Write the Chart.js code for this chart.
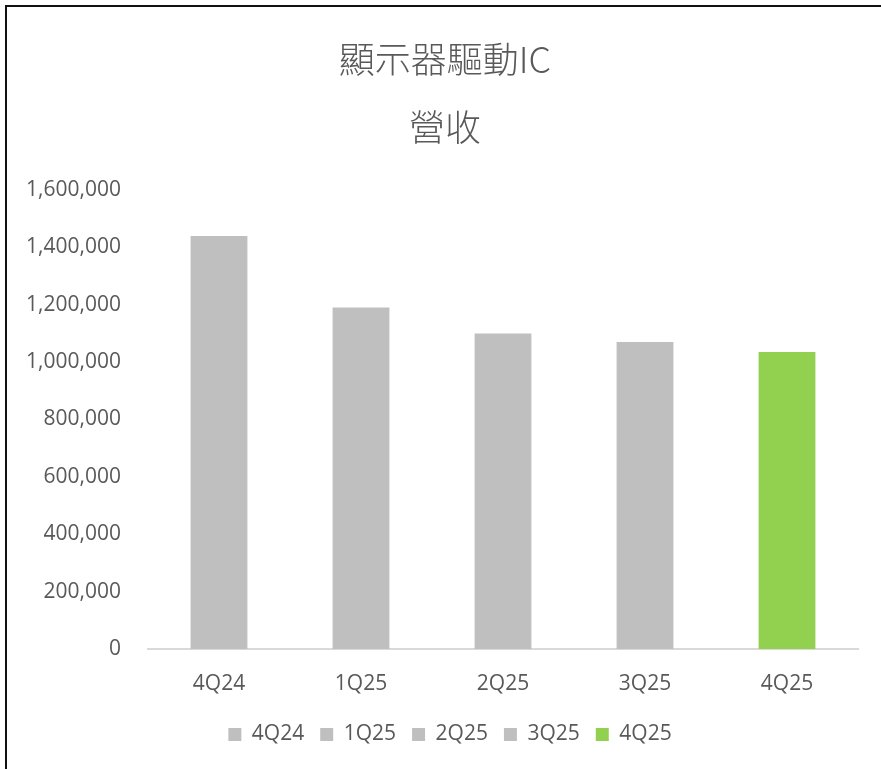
<!DOCTYPE html>
<html>
<head>
<meta charset="utf-8">
<script src="https://cdn.jsdelivr.net/npm/chart.js@4/dist/chart.umd.min.js"></script>
<style>
  html, body { margin: 0; padding: 0; background: #fff; overflow: hidden; }
  #frame { position: absolute; left: 5px; top: 5px; width: 920px; height: 820px; border: 2px solid #111; box-sizing: border-box; }
  #wrap { position: absolute; left: 0; top: 0; width: 881px; height: 769px; }
</style>
</head>
<body>
<div id="frame"></div>
<div id="wrap"><canvas id="c" width="881" height="769"></canvas></div>
<script>
const titleLines = ['顯示器驅動IC', '營收'];
const categories = ['4Q24', '1Q25', '2Q25', '3Q25', '4Q25'];
const revenue = [1440000, 1190000, 1100000, 1070000, 1035000];
const barColors = ['#BFBFBF', '#BFBFBF', '#BFBFBF', '#BFBFBF', '#92D050'];
const yMin = 0, yMax = 1600000, yStep = 200000;

const textColor = '#595959';
const latin = "'Open Sans', 'Noto Sans CJK TC', sans-serif";
const cjk = "'Noto Sans CJK TC', 'Open Sans', sans-serif";

// shift the full-width title/legend boxes so they centre like the original
const shiftBoxes = {
  id: 'shiftBoxes',
  afterLayout(chart) {
    if (chart.legend) { chart.legend.left += 11; chart.legend.right += 11; }
    if (chart.titleBlock) { chart.titleBlock.left += 6; chart.titleBlock.right += 6; }
  }
};

new Chart(document.getElementById('c'), {
  type: 'bar',
  plugins: [shiftBoxes],
  data: {
    labels: categories,
    datasets: [{
      label: '營收',
      data: revenue,
      backgroundColor: barColors,
      borderWidth: 0,
      categoryPercentage: 1.0,
      barPercentage: 0.4
    }]
  },
  options: {
    responsive: false,
    animation: false,
    devicePixelRatio: 1,
    layout: { padding: { left: 20, right: 23, top: 0, bottom: 14 } },
    plugins: {
      title: {
        display: true,
        text: titleLines,
        color: textColor,
        font: { family: cjk, size: 36, weight: 300, lineHeight: 1.875 },
        padding: { top: 26, bottom: 29 }
      },
      legend: {
        display: true,
        position: 'bottom',
        onClick: null,
        labels: {
          color: textColor,
          font: { family: latin, size: 21 },
          boxWidth: 13,
          boxHeight: 13,
          padding: 16,
          generateLabels: (chart) => categories.map((c, i) => ({
            text: c,
            fillStyle: barColors[i],
            strokeStyle: barColors[i],
            fontColor: textColor,
            lineWidth: 0,
            hidden: false,
            index: i
          }))
        }
      },
      tooltip: { enabled: false }
    },
    scales: {
      x: {
        grid: { display: false, drawTicks: false },
        border: { display: true, color: '#D9D9D9', width: 2 },
        ticks: { color: textColor, font: { family: latin, size: 21 }, padding: 22 },
        afterFit: (s) => { s.height = 59; }
      },
      y: {
        min: yMin,
        max: yMax,
        grid: { display: false, drawTicks: false },
        border: { display: false },
        ticks: {
          stepSize: yStep,
          color: textColor,
          font: { family: latin, size: 21 },
          padding: 27,
          callback: (v) => v.toLocaleString('en-US')
        },
        afterFit: (s) => { s.width = 128; }
      }
    }
  }
});
</script>
</body>
</html>
